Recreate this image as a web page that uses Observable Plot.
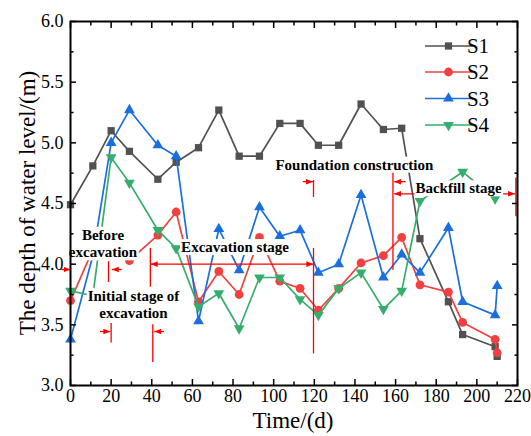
<!DOCTYPE html>
<html><head><meta charset="utf-8">
<script src="https://cdn.jsdelivr.net/npm/d3@7"></script>
<script src="https://cdn.jsdelivr.net/npm/@observablehq/plot@0.6"></script>
<style>
html,body{margin:0;padding:0;background:#fff;}
#chart svg, #chart svg text, #chart svg tspan { font-family: "Liberation Serif", "Times New Roman", Times, serif !important; }
</style>
</head><body><div id="chart"></div>
<script>
// ---- data ----
const days = [0, 11, 20, 29, 43, 52, 63, 73, 83, 93, 103, 113, 122, 132, 143, 154, 163, 172, 186, 193, 209, 210];
const S1 = [4.49, 4.81, 5.10, 4.93, 4.70, 4.84, 4.96, 5.27, 4.89, 4.89, 5.16, 5.16, 4.98, 4.98, 5.32, 5.11, 5.12, 4.21, 3.69, 3.42, 3.32, 3.24];
const S2 = [3.70, 4.12, 4.20, 4.03, 4.24, 4.43, 3.69, 3.94, 3.75, 4.22, 3.86, 3.80, 3.62, 3.80, 4.01, 4.07, 4.22, 3.83, 3.77, 3.52, 3.38, 3.27];
const S3 = [3.38, 4.07, 5.00, 5.27, 4.98, 4.89, 3.53, 4.29, 3.95, 4.47, 4.23, 4.28, 3.93, 4.00, 4.57, 3.89, 4.08, 3.93, 4.30, 3.69, 3.58, 3.82];
const S4 = [3.78, 3.74, 4.88, 4.67, 4.28, 4.13, 3.65, 3.76, 3.47, 3.89, 3.89, 3.71, 3.58, 3.80, 3.93, 3.63, 3.78, 4.52, null, 4.76, 4.54, null];
const seriesNames = ["S1", "S2", "S3", "S4"];
const seriesValues = [S1, S2, S3, S4];
const xTicks = [0, 20, 40, 60, 80, 100, 120, 140, 160, 180, 200, 220];
const xMinorTicks = [10, 30, 50, 70, 90, 110, 130, 150, 170, 190, 210];
const yTicks = [3.0, 3.5, 4.0, 4.5, 5.0, 5.5, 6.0];
const yMinorTicks = [3.25, 3.75, 4.25, 4.75, 5.25, 5.75];
const stageLabels = [
  {text: "Before\nexcavation", x: 16, y: 4.175},
  {text: "Initial stage of\nexcavation", x: 31, y: 3.672},
  {text: "Excavation stage", x: 81, y: 4.146},
  {text: "Foundation construction", x: 139.7, y: 4.825},
  {text: "Backfill stage", x: 191, y: 4.63}
];
const stageBars = [
  {x: 18.7, y1: 3.85, y2: 4.02},
  {x: 20, y1: 3.35, y2: 3.51},
  {x: 40.5, y1: 3.19, y2: 3.5},
  {x: 39.3, y1: 3.81, y2: 4.13},
  {x: 119.6, y1: 3.26, y2: 4.13},
  {x: 119.6, y1: 4.55, y2: 4.69},
  {x: 158.7, y1: 3.95, y2: 4.77},
  {x: 219.2, y1: 4.39, y2: 4.71}
];
const singleArrows = [
  {x1: -4.5, x2: 0, y: 3.956},
  {x1: 25.2, x2: 20.3, y: 3.956},
  {x1: 14.5, x2: 19.6, y: 3.445},
  {x1: 46, x2: 41.2, y: 3.445},
  {x1: 114.3, x2: 119.3, y: 4.68},
  {x1: 165, x2: 159.3, y: 4.68}
];
const doubleArrows = [
  {x1: 39.5, x2: 119.5, y: 4.0},
  {x1: 159.3, x2: 218.8, y: 4.58}
];

// ---- styles ----
const seriesColors = ["#515151", "#F14040", "#1A6FDF", "#37AD6B"];
const seriesSymbols = ["square", "circle", "triangle", "triangle"];
const seriesRotate = [0, 0, 0, 180];
const seriesR = [4.1, 4.4, 4.0, 4.0];
const FONT = '"Liberation Serif", "Times New Roman", Times, serif';
const annotRed = "#ff0000";

function filledArrow(color, context) {
  const doc = (context && context.document) || document;
  const ns = "http://www.w3.org/2000/svg";
  const m = doc.createElementNS(ns, "marker");
  m.setAttribute("viewBox", "-7 -3 7 6");
  m.setAttribute("markerWidth", "7");
  m.setAttribute("markerHeight", "6");
  m.setAttribute("markerUnits", "userSpaceOnUse");
  m.setAttribute("orient", "auto-start-reverse");
  m.setAttribute("fill", color);
  m.setAttribute("stroke", "none");
  const p = doc.createElementNS(ns, "path");
  p.setAttribute("d", "M-7,-2.8L0,0L-7,2.8Z");
  m.appendChild(p);
  return m;
}

const rows = (vals) => days.map((d, i) => ({day: d, value: vals[i]})).filter(d => d.value != null);

const marks = [];
seriesValues.forEach((vals, i) => {
  const data = rows(vals);
  marks.push(Plot.line(data, {x: "day", y: "value", stroke: seriesColors[i], strokeWidth: 1.7}));
  marks.push(Plot.dot(data, {x: "day", y: "value", symbol: seriesSymbols[i], r: seriesR[i], fill: seriesColors[i], stroke: "none", rotate: seriesRotate[i]}));
});
marks.push(Plot.ruleX(stageBars, {x: "x", y1: "y1", y2: "y2", stroke: annotRed, strokeWidth: 1.3}));
marks.push(Plot.link(singleArrows, {x1: "x1", x2: "x2", y1: "y", y2: "y", stroke: annotRed, strokeWidth: 1.3, markerEnd: filledArrow}));
marks.push(Plot.link(doubleArrows, {x1: "x1", x2: "x2", y1: "y", y2: "y", stroke: annotRed, strokeWidth: 1.3, markerStart: filledArrow, markerEnd: filledArrow}));
marks.push(Plot.text(stageLabels, {x: "x", y: "y", text: "text", fontSize: 15, fontWeight: "bold", fill: "black", textAnchor: "middle", lineHeight: 1.17}));

// axes
marks.push(Plot.axisX(xTicks, {anchor: "bottom", tickSize: 0, tickPadding: 4, fontSize: 18, fill: "black", label: null}));
marks.push(Plot.axisY(yTicks, {anchor: "left", tickSize: 0, tickPadding: 7, fontSize: 18, fill: "black", tickFormat: d3.format(".1f"), label: null}));
for (const anchor of ["bottom", "top"]) {
  marks.push(Plot.axisX(xTicks, {anchor, tickSize: -6, fill: "none", stroke: "black", strokeWidth: 1.5, label: null}));
  marks.push(Plot.axisX(xMinorTicks, {anchor, tickSize: -3.5, fill: "none", stroke: "black", strokeWidth: 1.5, label: null}));
}
for (const anchor of ["left", "right"]) {
  marks.push(Plot.axisY(yTicks, {anchor, tickSize: -6, fill: "none", stroke: "black", strokeWidth: 1.5, label: null}));
  marks.push(Plot.axisY(yMinorTicks, {anchor, tickSize: -3.5, fill: "none", stroke: "black", strokeWidth: 1.5, label: null}));
}
marks.push(Plot.frame({stroke: "black", strokeWidth: 2}));

const svg = Plot.plot({
  width: 531,
  height: 436,
  marginLeft: 70,
  marginRight: 14,
  marginTop: 21,
  marginBottom: 51,
  style: {fontFamily: FONT, fontSize: "18px", background: "white", color: "black", overflow: "visible"},
  x: {type: "linear", domain: [0, 220], axis: null},
  y: {type: "linear", domain: [3, 6], axis: null},
  marks
});
document.getElementById("chart").append(svg);

// white boxes behind stage labels
const ns = "http://www.w3.org/2000/svg";
d3.select(svg).selectAll('g[aria-label="text"] text').each(function () {
  const b = this.getBBox();
  const r = document.createElementNS(ns, "rect");
  r.setAttribute("x", b.x - 1);
  r.setAttribute("y", b.y);
  r.setAttribute("width", b.width + 2);
  r.setAttribute("height", b.height);
  r.setAttribute("fill", "white");
  const t = this.getAttribute("transform");
  if (t) r.setAttribute("transform", t);
  this.parentNode.insertBefore(r, this);
});

// axis titles
const root = d3.select(svg);
root.append("text").attr("x", 293).attr("y", 428).attr("text-anchor", "middle")
  .attr("font-size", 23).attr("fill", "black").text("Time/(d)");
root.append("text").attr("transform", "translate(27,203) rotate(-90)").attr("text-anchor", "middle")
  .attr("dominant-baseline", "central").attr("font-size", 23).attr("fill", "black")
  .text("The depth of water level/(m)");

// legend
const lg = root.append("g");
const legendRowY = [46, 72, 98.5, 125];
seriesNames.forEach((name, i) => {
  const y = legendRowY[i];
  lg.append("line").attr("x1", 425).attr("x2", 472).attr("y1", y).attr("y2", y)
    .attr("stroke", seriesColors[i]).attr("stroke-width", 1.7);
  const symType = [d3.symbolSquare, d3.symbolCircle, d3.symbolTriangle, d3.symbolTriangle][i];
  lg.append("path").attr("d", d3.symbol(symType, Math.PI * seriesR[i] * seriesR[i])())
    .attr("transform", `translate(448.5,${y}) rotate(${seriesRotate[i]})`).attr("fill", seriesColors[i]);
  lg.append("text").attr("x", 478).attr("y", y).attr("dy", "0.35em")
    .attr("font-size", 21).attr("fill", "black").text(name);
});
</script>
</body></html>
